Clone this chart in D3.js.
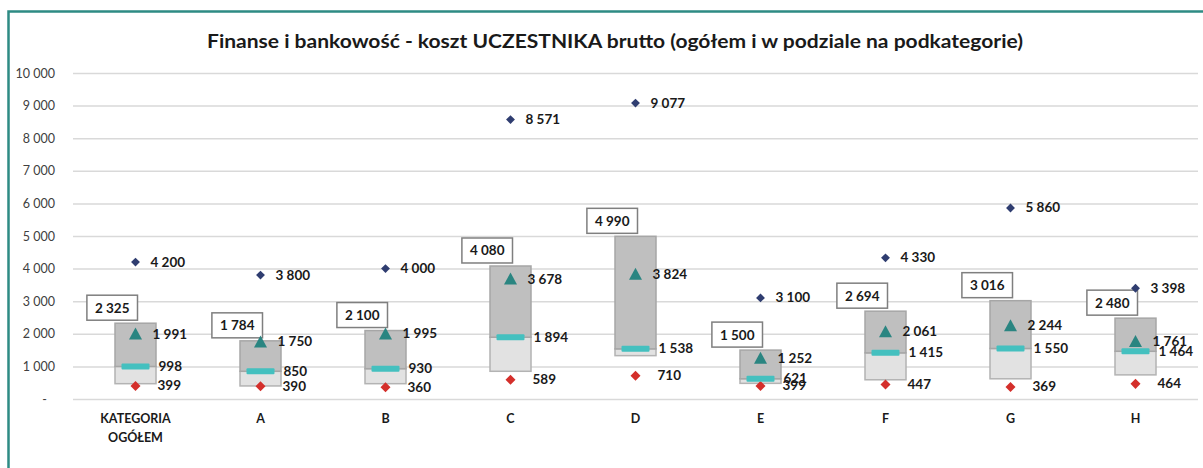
<!DOCTYPE html>
<html>
<head>
<meta charset="utf-8">
<script src="https://cdn.jsdelivr.net/npm/d3@7"></script>
<style>
  body { margin: 0; background: #fff; }
  text { font-family: Lato, "Open Sans", sans-serif; }
</style>
</head>
<body>
<div id="my_dataviz"></div>
<script>
var categories = ["KATEGORIA OGÓŁEM", "A", "B", "C", "D", "E", "F", "G", "H"];
var maxVals    = [4200, 3800, 4000, 8571, 9077, 3100, 4330, 5860, 3398];
var q3Vals     = [2325, 1784, 2100, 4080, 4990, 1500, 2694, 3016, 2480];
var meanVals   = [1991, 1750, 1995, 3678, 3824, 1252, 2061, 2244, 1761];
var medianVals = [998, 850, 930, 1894, 1538, 621, 1415, 1550, 1464];
var q1Vals     = [470, 400, 470, 850, 1330, 480, 590, 620, 740];
var minVals    = [399, 390, 360, 589, 710, 399, 447, 369, 464];
var yTicks     = [0, 1000, 2000, 3000, 4000, 5000, 6000, 7000, 8000, 9000, 10000];

var title = "Finanse i bankowość - koszt UCZESTNIKA brutto (ogółem i w podziale na podkategorie)";

function plot() {
    document.getElementById("my_dataviz").innerHTML = '';

    var W = 1203, H = 468;
    var margin = {top: 73, right: 5, bottom: 69, left: 73};
    var width = W - margin.left - margin.right,
        height = H - margin.top - margin.bottom;

    var loc = d3.formatLocale({decimal: ",", thousands: " ", grouping: [3], currency: ["", ""]});
    var fmt = loc.format(",.0f");

    var svg0 = d3.select("#my_dataviz")
        .append("svg")
            .attr("width", W)
            .attr("height", H);

    // frame
    svg0.append("path")
        .attr("d", "M8.5," + H + " V11.5 H" + W)
        .attr("fill", "none")
        .attr("stroke", "#2e8b84")
        .attr("stroke-width", 2.5);

    svg0.append("text")
        .attr("x", 207)
        .attr("y", 48)
        .attr("font-size", "19px")
        .attr("font-weight", "bold")
        .attr("fill", "#1a1a1a")
        .attr("textLength", 816)
        .attr("lengthAdjust", "spacingAndGlyphs")
        .text(title);

    var svg = svg0.append("g")
        .attr("transform", "translate(" + margin.left + "," + margin.top + ")");

    var xScale = d3.scaleBand()
        .domain(categories)
        .range([0, width]);

    var yScale = d3.scaleLinear()
        .domain([0, 10000])
        .range([height, 0]);

    // gridlines + y labels
    var yAxis = svg.append("g")
        .call(d3.axisLeft(yScale)
            .tickValues(yTicks)
            .tickSize(-width)
            .tickPadding(18)
            .tickFormat(function(d) { return d === 0 ? "-" : fmt(d); }));
    yAxis.select(".domain").remove();
    yAxis.selectAll("line").attr("stroke", "#d9d9d9").attr("stroke-width", 1.5);
    yAxis.selectAll("text")
        .attr("font-size", "12.5px")
        .attr("fill", "#404040")
        .attr("font-family", "Lato, sans-serif");
    yAxis.selectAll(".tick").filter(function(d) { return d === 0; }).select("text").attr("dx", -8);

    // x labels
    var xAxis = svg.append("g")
        .attr("transform", "translate(0," + height + ")")
        .call(d3.axisBottom(xScale).tickSize(0).tickPadding(0).tickFormat(""));
    xAxis.select(".domain").remove();
    xAxis.selectAll(".tick").each(function(d) {
        var words = d.split(" ");
        var t = d3.select(this).append("text")
            .attr("fill", "#1a1a1a")
            .attr("font-size", "12.5px")
            .attr("font-weight", "bold")
            .attr("font-family", "Lato, sans-serif")
            .attr("text-anchor", "middle");
        words.forEach(function(w, i) {
            t.append("tspan").attr("x", 0).attr("y", 24 + i * 19).text(w);
        });
    });

    var bw = 41;
    var cx = function(i) { return xScale(categories[i]) + xScale.bandwidth() / 2; };
    var idx = d3.range(categories.length);

    // light box q1 -> median
    svg.selectAll("rect.lo").data(idx).enter().append("rect")
        .attr("class", "lo")
        .attr("x", function(i) { return cx(i) - bw / 2; })
        .attr("y", function(i) { return yScale(medianVals[i]); })
        .attr("width", bw)
        .attr("height", function(i) { return yScale(q1Vals[i]) - yScale(medianVals[i]); })
        .attr("fill", "#e2e2e2")
        .attr("stroke", "#b3b3b3")
        .attr("stroke-width", 1.5);

    // dark box median -> q3
    svg.selectAll("rect.hi").data(idx).enter().append("rect")
        .attr("class", "hi")
        .attr("x", function(i) { return cx(i) - bw / 2; })
        .attr("y", function(i) { return yScale(q3Vals[i]); })
        .attr("width", bw)
        .attr("height", function(i) { return yScale(medianVals[i]) - yScale(q3Vals[i]); })
        .attr("fill", "#bfbfbf")
        .attr("stroke", "#a6a6a6")
        .attr("stroke-width", 1.5);

    // q3 label boxes
    idx.forEach(function(i) {
        var g = svg.append("g");
        var tx = g.append("text")
            .attr("font-size", "13.5px")
            .attr("font-weight", "bold")
            .attr("fill", "#1a1a1a")
            .attr("text-anchor", "middle")
            .text(fmt(q3Vals[i]));
        var tw = tx.node().getComputedTextLength();
        var bwid = Math.max(tw + 16, 49), bh = 25;
        var right = cx(i) + 2, bottom = yScale(q3Vals[i]) - 3;
        g.insert("rect", "text")
            .attr("x", right - bwid)
            .attr("y", bottom - bh)
            .attr("width", bwid)
            .attr("height", bh)
            .attr("fill", "#fff")
            .attr("stroke", "#7f7f7f")
            .attr("stroke-width", 1.5);
        tx.attr("x", right - bwid / 2).attr("y", bottom - bh / 2 + 5);
    });

    var sym = function(type, size) { return d3.symbol().type(type).size(size)(); };

    // max diamonds
    svg.selectAll("path.max").data(idx).enter().append("path")
        .attr("class", "max")
        .attr("d", sym(d3.symbolDiamond2, 50))
        .attr("transform", function(i) { return "translate(" + cx(i) + "," + yScale(maxVals[i]) + ")"; })
        .attr("fill", "#2f3d70");

    // min diamonds
    svg.selectAll("path.min").data(idx).enter().append("path")
        .attr("class", "min")
        .attr("d", sym(d3.symbolDiamond2, 64))
        .attr("transform", function(i) { return "translate(" + cx(i) + "," + yScale(minVals[i]) + ")"; })
        .attr("fill", "#d42f2b");

    // median dashes
    svg.selectAll("rect.med").data(idx).enter().append("rect")
        .attr("class", "med")
        .attr("x", function(i) { return cx(i) - 14; })
        .attr("y", function(i) { return yScale(medianVals[i]) - 3; })
        .attr("width", 28)
        .attr("height", 6)
        .attr("rx", 1)
        .attr("fill", "#44c0bf");

    // mean triangles
    svg.selectAll("path.mean").data(idx).enter().append("path")
        .attr("class", "mean")
        .attr("d", "M0,-6.5L6.5,5.5L-6.5,5.5Z")
        .attr("transform", function(i) { return "translate(" + cx(i) + "," + yScale(meanVals[i]) + ")"; })
        .attr("fill", "#2a8581");

    // value labels
    var labels = [
        {vals: maxVals, dx: 15},
        {vals: meanVals, dx: 17},
        {vals: medianVals, dx: 23},
        {vals: minVals, dx: 22}
    ];
    labels.forEach(function(L) {
        svg.selectAll(null).data(idx).enter().append("text")
            .attr("x", function(i) { return cx(i) + L.dx; })
            .attr("y", function(i) { return yScale(L.vals[i]) + 4.5; })
            .attr("font-size", "13.5px")
            .attr("font-weight", "bold")
            .attr("fill", "#1a1a1a")
            .text(function(i) { return fmt(L.vals[i]); });
    });
}

window.addEventListener("load", plot);
</script>
</body>
</html>
